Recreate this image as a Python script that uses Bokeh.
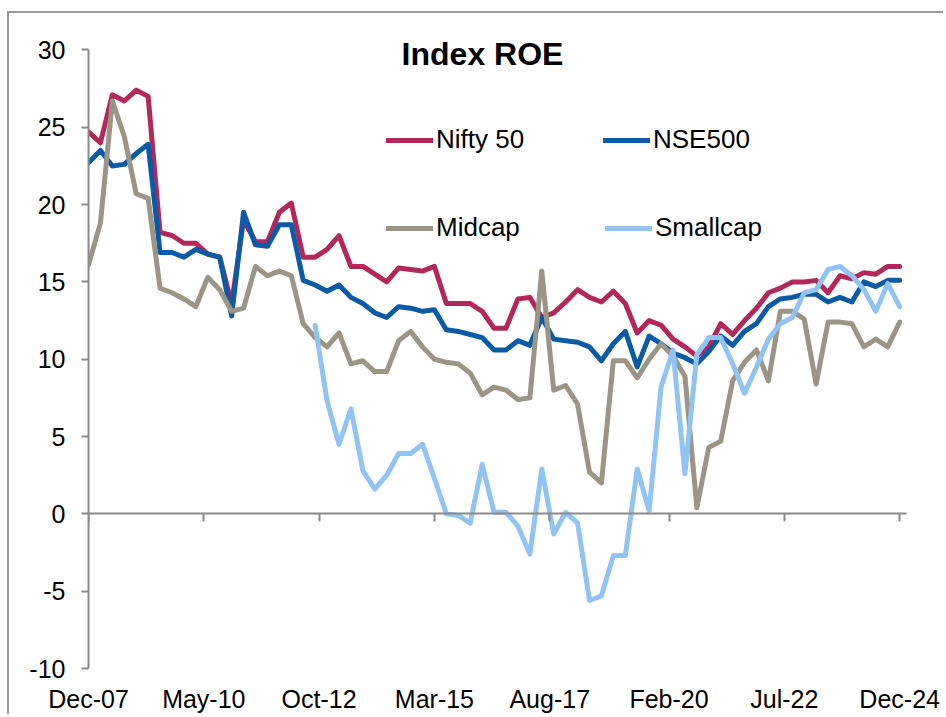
import numpy as np
from bokeh.plotting import figure
from bokeh.models import Range1d, LinearAxis, FixedTicker, Legend, LegendItem, Label
from bokeh.embed import file_html
from bokeh.resources import INLINE

# Quarter ends, expressed as months since Dec-07 (Dec-07 ... Dec-24)
months = list(range(0, 205, 3))

nifty50 = [24.7, 24.0, 27.1, 26.7, 27.4, 27.0, 18.2, 18.0, 17.5, 17.5,
           16.8, 16.6, 13.6, 19.0, 17.6, 17.6, 19.5, 20.1, 16.6, 16.6,
           17.1, 18.0, 16.0, 16.0, 15.5, 15.0, 15.9, 15.8, 15.7, 16.0,
           13.6, 13.6, 13.6, 13.1, 12.0, 12.0, 13.9, 14.0, 12.7, 13.0,
           13.7, 14.5, 14.0, 13.7, 14.4, 13.6, 11.7, 12.5, 12.2, 11.3,
           10.8, 10.2, 10.8, 12.3, 11.6, 12.5, 13.3, 14.3, 14.6, 15.0,
           15.0, 15.1, 14.3, 15.4, 15.2, 15.6, 15.5, 16.0, 16.0]

nse500 = [22.7, 23.5, 22.5, 22.6, 23.3, 23.9, 16.9, 16.9, 16.6, 17.1,
          16.8, 16.6, 12.8, 19.5, 17.4, 17.3, 18.7, 18.7, 15.1, 14.8,
          14.4, 14.8, 14.0, 13.6, 13.0, 12.7, 13.4, 13.3, 13.1, 13.2,
          11.9, 11.8, 11.6, 11.4, 10.6, 10.6, 11.2, 10.9, 12.7, 11.3,
          11.2, 11.1, 10.8, 9.9, 11.0, 11.8, 9.5, 11.5, 11.0, 10.4,
          10.1, 9.7, 10.5, 11.5, 10.9, 11.8, 12.3, 13.4, 13.9, 14.0,
          14.2, 14.2, 13.7, 14.0, 13.7, 15.0, 14.7, 15.1, 15.1]

midcap = [16.1, 18.8, 26.7, 24.4, 20.7, 20.4, 14.6, 14.3, 13.9, 13.4,
          15.3, 14.5, 13.1, 13.3, 16.0, 15.4, 15.7, 15.4, 12.3, 11.4,
          10.8, 11.7, 9.7, 9.9, 9.2, 9.2, 11.2, 11.8, 10.8, 10.0,
          9.8, 9.7, 9.1, 7.7, 8.2, 8.0, 7.4, 7.5, 15.7, 8.0,
          8.3, 7.1, 2.7, 2.0, 9.9, 9.9, 8.8, 10.0, 11.0, 10.2,
          8.9, 0.4, 4.3, 4.7, 8.6, 9.8, 10.6, 8.6, 13.1, 13.1,
          12.6, 8.4, 12.4, 12.4, 12.3, 10.8, 11.3, 10.8, 12.4]

smallcap = [None] * 19 + [
          12.2, 7.3, 4.5, 6.8, 2.8, 1.6, 2.5, 3.9, 3.9, 4.5,
          2.3, 0.0, -0.1, -0.6, 3.2, 0.1, 0.1, -0.8, -2.6, 2.9,
          -1.3, 0.1, -0.6, -5.6, -5.3, -2.7, -2.7, 2.9, 0.2, 8.2,
          10.6, 2.6, 10.3, 11.4, 11.4, 9.7, 7.8, 9.5, 11.3, 12.3,
          12.7, 14.3, 14.5, 15.8, 16.0, 15.4, 14.5, 13.1, 14.9, 13.4]

tick_months = [0, 29, 58, 87, 116, 146, 175, 204]
tick_labels = ["Dec-07", "May-10", "Oct-12", "Mar-15", "Aug-17", "Feb-20", "Jul-22", "Dec-24"]
y_ticks = [-10, -5, 0, 5, 10, 15, 20, 25, 30]

series_names = ["Nifty 50", "NSE500", "Midcap", "Smallcap"]
series_colors = ["#B3285A", "#0B5AA5", "#9A9584", "#92C4F3"]

FONT = "Liberation Sans"
GREY = "#8A8A8A"

p = figure(width=936, height=703,
           x_range=Range1d(0, 210), y_range=Range1d(-10, 31),
           output_backend="svg", toolbar_location=None,
           min_border_left=79, min_border_right=22,
           min_border_top=21, min_border_bottom=48,
           background_fill_color="white", border_fill_color="white")
p.margin = (11, 0, 0, 7)
p.styles = {"border-left": "2px solid #9a9a9a", "border-top": "2px solid #9a9a9a"}
p.outline_line_color = None
p.grid.visible = False

# Left axis
ya = p.yaxis[0]
ya.ticker = FixedTicker(ticks=y_ticks)
ya.major_label_overrides = {v: str(v) for v in y_ticks}
ya.bounds = (-10, 30)
ya.axis_line_color = GREY
ya.axis_line_width = 2
ya.major_tick_line_color = GREY
ya.major_tick_line_width = 2
ya.major_tick_out = 7
ya.major_tick_in = 0
ya.minor_tick_line_color = None
ya.major_label_standoff = 16
ya.major_label_text_font = FONT
ya.major_label_text_font_size = "25px"
ya.major_label_text_color = "black"

# Bottom axis: labels only
xa = p.xaxis[0]
xa.ticker = FixedTicker(ticks=tick_months)
xa.major_label_overrides = {m: lab for m, lab in zip(tick_months, tick_labels)}
xa.axis_line_color = None
xa.major_tick_line_color = None
xa.minor_tick_line_color = None
xa.major_tick_out = 0
xa.major_tick_in = 0
xa.major_label_standoff = 16
xa.major_label_text_font = FONT
xa.major_label_text_font_size = "25px"
xa.major_label_text_color = "black"

# Axis line through zero with tick marks pointing down
zero_axis = LinearAxis(fixed_location=0, ticker=FixedTicker(ticks=tick_months),
                       bounds=(0, 205.7),
                       major_tick_in=8, major_tick_out=0,
                       minor_tick_line_color=None,
                       axis_line_color=GREY, axis_line_width=2,
                       major_tick_line_color=GREY, major_tick_line_width=2,
                       major_label_standoff=0,
                       major_label_text_font_size="0px",
                       major_label_text_color=None)
p.add_layout(zero_axis, "above")

renderers = []
for ys, col in zip([nifty50, nse500, midcap, smallcap], series_colors):
    r = p.line(months, np.array(ys, dtype=float), line_color=col, line_width=5,
               line_join="round", line_cap="round")
    renderers.append(r)

# Legends (2 x 2 grid), positions in screen px relative to plot frame
legend_pos = [(298, 513), (515, 513), (298, 425), (517, 425)]
for name, r, loc in zip(series_names, renderers, legend_pos):
    lg = Legend(items=[LegendItem(label=name, renderers=[r])], location=loc,
                orientation="horizontal",
                glyph_width=47, glyph_height=30, label_height=30,
                label_standoff=3, padding=0, margin=0, spacing=0,
                border_line_color=None, background_fill_alpha=0,
                label_text_font=FONT, label_text_font_size="26px",
                label_text_color="black")
    p.add_layout(lg, "center")

title = Label(x=394, y=615, x_units="screen", y_units="screen",
              text="Index ROE", text_align="center", text_baseline="middle",
              text_font=FONT, text_font_size="32px", text_font_style="bold",
              text_color="black")
p.add_layout(title)

open("out.html", "w").write(file_html(p, INLINE))
